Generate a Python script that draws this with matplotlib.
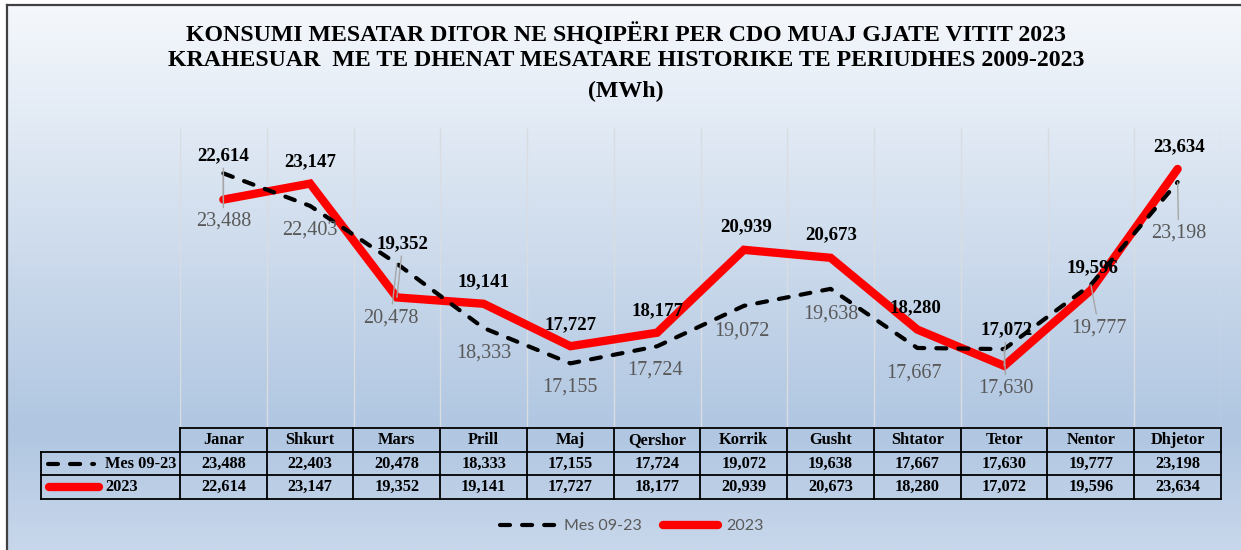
import numpy as np
import matplotlib.pyplot as plt

# te dhenat
muajt = ['Janar', 'Shkurt', 'Mars', 'Prill', 'Maj', 'Qershor', 'Korrik',
         'Gusht', 'Shtator', 'Tetor', 'Nentor', 'Dhjetor']
mes_09_23 = [23488, 22403, 20478, 18333, 17155, 17724, 19072, 19638, 17667, 17630, 19777, 23198]
viti_2023 = [22614, 23147, 19352, 19141, 17727, 18177, 20939, 20673, 18280, 17072, 19596, 23634]

# zhvendosja e etiketave (pixel) nga pika
off_2023 = [(0, 44), (0, 22), (6, 54), (0, 22), (0, 21), (0, 22),
            (2, 23), (1, 23), (-2, 22), (2, 36), (2, 22), (1, 22)]
off_mes = [(0, -48), (0, -24), (-6, -54), (0, -25), (0, -24), (-2, -24),
           (-2, -25), (0, -25), (-3, -25), (2, -39), (8, -43), (1, -51)]
leader_2023 = [0, 2, 9]
leader_mes = [0, 2, 9, 10, 11]

W, H = 1241, 550
fig = plt.figure(figsize=(W / 100, H / 100), dpi=100)
fig.patch.set_facecolor('white')

# sfondi me gradient
bg = fig.add_axes([0, 0, 1, 1], zorder=0)
bg.set_xlim(0, W)
bg.set_ylim(H, 0)
bg.axis('off')
stops_y = [5, 430, 550]
stops_c = [np.array([0xf5, 0xf8, 0xfc]), np.array([0xb0, 0xc6, 0xe1]), np.array([0xc8, 0xd7, 0xeb])]
yy = np.linspace(5, 550, 300)
grad = np.zeros((300, 1, 3))
for k in range(3):
    grad[:, 0, k] = np.interp(yy, stops_y, [c[k] for c in stops_c]) / 255
bg.imshow(grad, extent=(7, W, 550, 5), aspect='auto', zorder=0)
bg.plot([7, W], [5, 5], color='#404040', lw=1.6, zorder=2)
bg.plot([7, 7], [5, H], color='#404040', lw=1.6, zorder=2)

serif = 'Liberation Serif'
bg.text(626, 35, 'KONSUMI MESATAR DITOR NE SHQIPËRI PER CDO MUAJ GJATE VITIT 2023',
        ha='center', va='center', fontsize=17.2, fontweight='bold', family=serif)
bg.text(626, 61, 'KRAHESUAR  ME TE DHENAT MESATARE HISTORIKE TE PERIUDHES 2009-2023',
        ha='center', va='center', fontsize=17.2, fontweight='bold', family=serif)
bg.text(626, 91, '(MWh)', ha='center', va='center', fontsize=17.2, fontweight='bold', family=serif)

# grafiku
ax = fig.add_axes([180 / W, (H - 428) / H, 1041 / W, 300 / H], zorder=2)
ax.patch.set_alpha(0)
ax.set_xlim(-0.5, 11.5)
ax.set_ylim(15000, 25000)
ax.axis('off')
x = np.arange(len(muajt))
ax.vlines(np.arange(13) - 0.5, 15000, 25000, color='#d9dce0', lw=1, zorder=1)

l_mes, = ax.plot(x, mes_09_23, color='black', lw=3, dashes=(2.4, 2.9),
                 dash_capstyle='round', zorder=3, label='Mes 09-23')
l_23, = ax.plot(x, viti_2023, color='#ff0000', lw=6, solid_capstyle='round',
                solid_joinstyle='miter', zorder=2, label='2023')

for i in range(12):
    ap = dict(arrowstyle='-', color='#a6a6a6', lw=1, shrinkA=1, shrinkB=0) if i in leader_2023 else None
    ax.annotate(f'{viti_2023[i]:,}', (x[i], viti_2023[i]), xytext=off_2023[i],
                textcoords='offset pixels', ha='center', va='center', fontsize=13.6,
                fontweight='bold', family=serif, color='black', arrowprops=ap, zorder=5)
    ap = dict(arrowstyle='-', color='#a6a6a6', lw=1, shrinkA=1, shrinkB=0) if i in leader_mes else None
    ax.annotate(f'{mes_09_23[i]:,}', (x[i], mes_09_23[i]), xytext=off_mes[i],
                textcoords='offset pixels', ha='center', va='center', fontsize=14.5,
                family=serif, color='#595959', arrowprops=ap, zorder=5)

# tabela
def px(p):
    return (p - 180) / 86.75 - 0.5

left_u = px(41)
tb = fig.add_axes([41 / W, (H - 499) / H, 1180 / W, 71 / H], zorder=3)
tb.patch.set_alpha(0)
tb.set_xlim(left_u, 11.5)
tb.set_ylim(3, 0)
tb.axis('off')
kw = dict(color='black', lw=1.3, clip_on=False)
tb.plot([-0.5, 11.5], [0, 0], **kw)
for r in (1, 2, 3):
    tb.plot([left_u, 11.5], [r, r], **kw)
tb.plot([left_u, left_u], [1, 3], **kw)
for c in range(13):
    tb.plot([c - 0.5, c - 0.5], [0, 3], **kw)
for i in range(12):
    tb.text(i, 0.5, muajt[i], ha='center', va='center', fontsize=11.8, fontweight='bold', family=serif)
    tb.text(i, 1.5, f'{mes_09_23[i]:,}', ha='center', va='center', fontsize=11.8, fontweight='bold', family=serif)
    tb.text(i, 2.5, f'{viti_2023[i]:,}', ha='center', va='center', fontsize=11.8, fontweight='bold', family=serif)
tb.plot([px(48), px(94)], [1.5, 1.5], color='black', lw=3, dashes=(2.4, 2.9),
        dash_capstyle='round', clip_on=False)
tb.plot([px(49), px(99)], [2.5, 2.5], color='#ff0000', lw=6,
        solid_capstyle='round', clip_on=False)
tb.text(px(105), 1.5, 'Mes 09-23', ha='left', va='center', fontsize=11.8,
        fontweight='bold', family=serif)
tb.text(px(105), 2.5, '2023', ha='left', va='center', fontsize=11.8,
        fontweight='bold', family=serif)

# legjenda
leg = fig.legend(handles=[l_mes, l_23], loc='center', bbox_to_anchor=(632 / W, 1 - 526 / H),
                 ncol=2, frameon=False, handlelength=3.5, handletextpad=0.5,
                 columnspacing=1.3, prop={'family': 'Lato', 'size': 11.5})
for t in leg.get_texts():
    t.set_color('#595959')

fig.savefig('out.png', dpi=100)
